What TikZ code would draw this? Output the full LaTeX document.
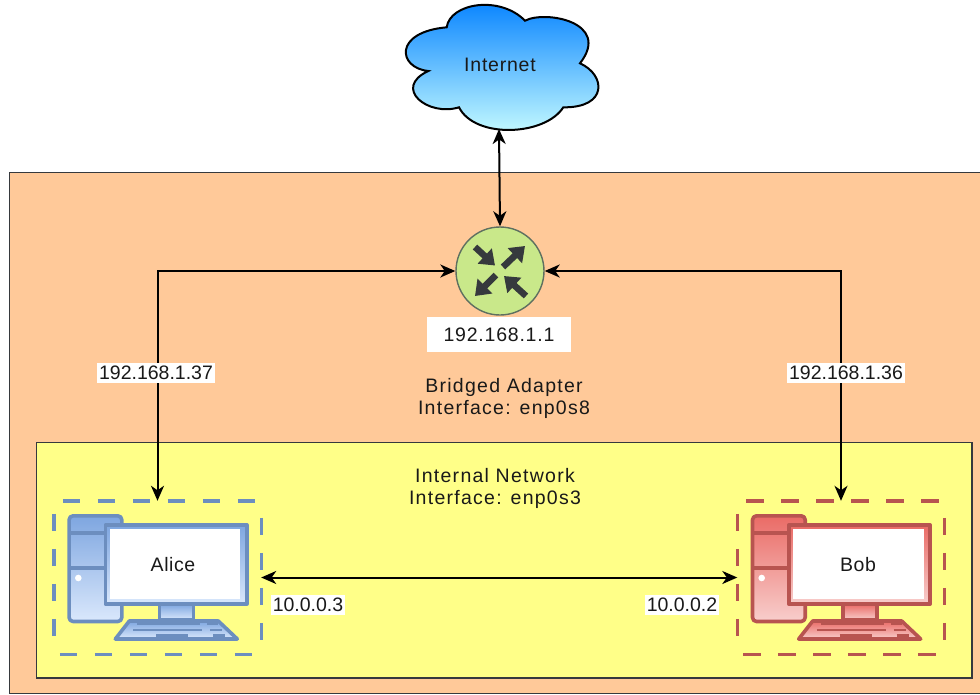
\documentclass[tikz,border=0pt]{standalone}
\usepackage{fontspec}
\setmainfont{Liberation Sans}
\usetikzlibrary{arrows.meta}
\definecolor{orangebg}{HTML}{FFC999}
\definecolor{yellowbg}{HTML}{FFFF88}
\definecolor{edgegrey}{HTML}{36393D}
\definecolor{routerfill}{HTML}{C9E88A}
\definecolor{routeredge}{HTML}{5F7060}
\definecolor{bluestroke}{HTML}{6C8EBF}
\definecolor{bluetop}{HTML}{7EA6E0}
\definecolor{bluebot}{HTML}{DAE8FC}
\definecolor{redstroke}{HTML}{B85450}
\definecolor{redtop}{HTML}{EA6B66}
\definecolor{redbot}{HTML}{F8CECC}
\definecolor{cloudtop}{HTML}{007FFF}
\definecolor{cloudbot}{HTML}{CCFFFF}
\tikzset{
  txt/.style={font=\fontsize{19.5}{22}\selectfont,text=black!90,align=center,inner sep=0pt},
  spaced/.style={txt,font=\fontsize{19.5}{22}\selectfont\addfontfeature{LetterSpace=#1}},
  lbl/.style={txt,fill=white,inner xsep=2pt,inner ysep=3pt},
  link/.style={draw=black,line width=2pt,{Stealth[length=15pt,width=13pt,inset=4.5pt]}-{Stealth[length=15pt,width=13pt,inset=4.5pt]}},
  anchorbox/.style={rectangle,minimum width=207pt,minimum height=153pt,inner sep=0pt},
  dashside/.style={line width=3.4pt,dash pattern=on 17.5pt off 17.5pt},
  ricon/.style={draw=edgegrey,line width=6.5pt,-{Triangle[length=14pt,width=20pt]}},
  pics/computer/.style n args={3}{code={
    \tikzset{every path/.style={draw=#1,line width=3.6pt,line join=round}}
    % tower
    \path[top color=#2,bottom color=#3,rounded corners=4pt] (1.8,1.8) rectangle (54.5,107.5);
    \path (1.8,19) -- (38,19) (1.8,54) -- (38,54);
    \path[fill=white,draw=none] (11,64) circle (3.3);
    % monitor
    \path[top color=#2,bottom color=#3] (38,11) rectangle (179.5,90);
    \path[fill=white,draw=none] (42.3,15.3) rectangle (173,85);
    % stand
    \path[top color=#2,bottom color=#3] (92,90) rectangle (126,106);
    % keyboard
    \path[top color=#2,bottom color=#3] (62,107) -- (151,107) -- (170,125) -- (48,125) -- cycle;
    \path[line width=2.8pt] (70,110) -- (133,110) (140,110) -- (151,110)
      (66,116) -- (135,116) (143,116) -- (155,116)
      (89,121.5) -- (121,121.5) (146,121.5) -- (158,121.5);
  }}
}
\begin{document}
\begin{tikzpicture}[x=1pt,y=-1pt]
\useasboundingbox (0,0) rectangle (980,694);
\fill[white] (0,0) rectangle (980,694);
% panels
\draw[draw=edgegrey,line width=1.4pt,fill=orangebg] (9.5,172.5) rectangle (990,693.5);
\draw[draw=edgegrey,line width=1.4pt,fill=yellowbg] (36.5,442.5) rectangle (972,678);
% cloud
\path[draw=black,line width=2pt,top color=cloudtop,bottom color=cloudbot]
  (446.7,27.3) .. controls (450,3) and (500,-5) .. (525,20.7)
  .. controls (545,10) and (612,22) .. (580,63.3)
  .. controls (606,75) and (608,108) .. (563.3,107.3)
  .. controls (545,136) and (475,139) .. (459,107.3)
  .. controls (428,117) and (392,88) .. (428.3,71)
  .. controls (398,68) and (393,32) .. (446.7,27.3) -- cycle;
\node[spaced=4] (cloud) at (500,65) {Internet};
\coordinate (cloudbottom) at (499,129);
% router
\node[circle,draw=routeredge,line width=1.4pt,fill=routerfill,minimum size=88pt,inner sep=0pt] (router) at (500,271) {};
\draw[ricon] (475,247) -- (495,265.5);
\draw[ricon] (503,267) -- (525,246);
\draw[ricon] (496,275) -- (475,296);
\draw[ricon] (526,296) -- (504,276);
\node[spaced=4,fill=white,minimum width=144pt,minimum height=35pt] (routerip) at (499,334.5) {192.168.1.1};
% computers
\pic at (67.3,514) {computer={bluestroke}{bluetop}{bluebot}};
\pic at (750.7,514) {computer={redstroke}{redtop}{redbot}};
\node[spaced=3] (alicename) at (173,565) {Alice};
\node[spaced=3] (bobname) at (858,565) {Bob};
\node[anchorbox] (alice) at (157.5,577.5) {};
\node[anchorbox] (bob) at (841,577.5) {};
\foreach \bx/\col in {alice/bluestroke,bob/redstroke}{
  \draw[dashside,draw=\col] ([xshift=9pt]\bx.north west) -- ([xshift=-4pt]\bx.north east);
  \draw[dashside,draw=\col] ([xshift=6pt]\bx.south west) -- ([xshift=-8pt]\bx.south east);
  \draw[dashside,draw=\col] ([yshift=-13pt]\bx.north west) -- ([yshift=16pt]\bx.south west);
  \draw[dashside,draw=\col] ([yshift=-17pt]\bx.north east) -- ([yshift=14pt]\bx.south east);
}
% connectors
\draw[link] (cloudbottom) -- (router.north);
\draw[link] (router.west) -| (alice.north);
\draw[link] (router.east) -| (bob.north);
\draw[link] (alice.east) -- (bob.west);
% labels
\node[lbl] (ipa) at (156,373) {192.168.1.37};
\node[lbl] (ipb) at (846,373) {192.168.1.36};
\node[spaced=6.5] (bridged) at (504,398) {Bridged Adapter\\Interface: enp0s8};
\node[spaced=6.5] (internal) at (495,488) {Internal Network\\Interface: enp0s3};
\node[lbl] (ipc) at (308,605) {10.0.0.3};
\node[lbl] (ipd) at (682,605) {10.0.0.2};
\end{tikzpicture}
\end{document}
